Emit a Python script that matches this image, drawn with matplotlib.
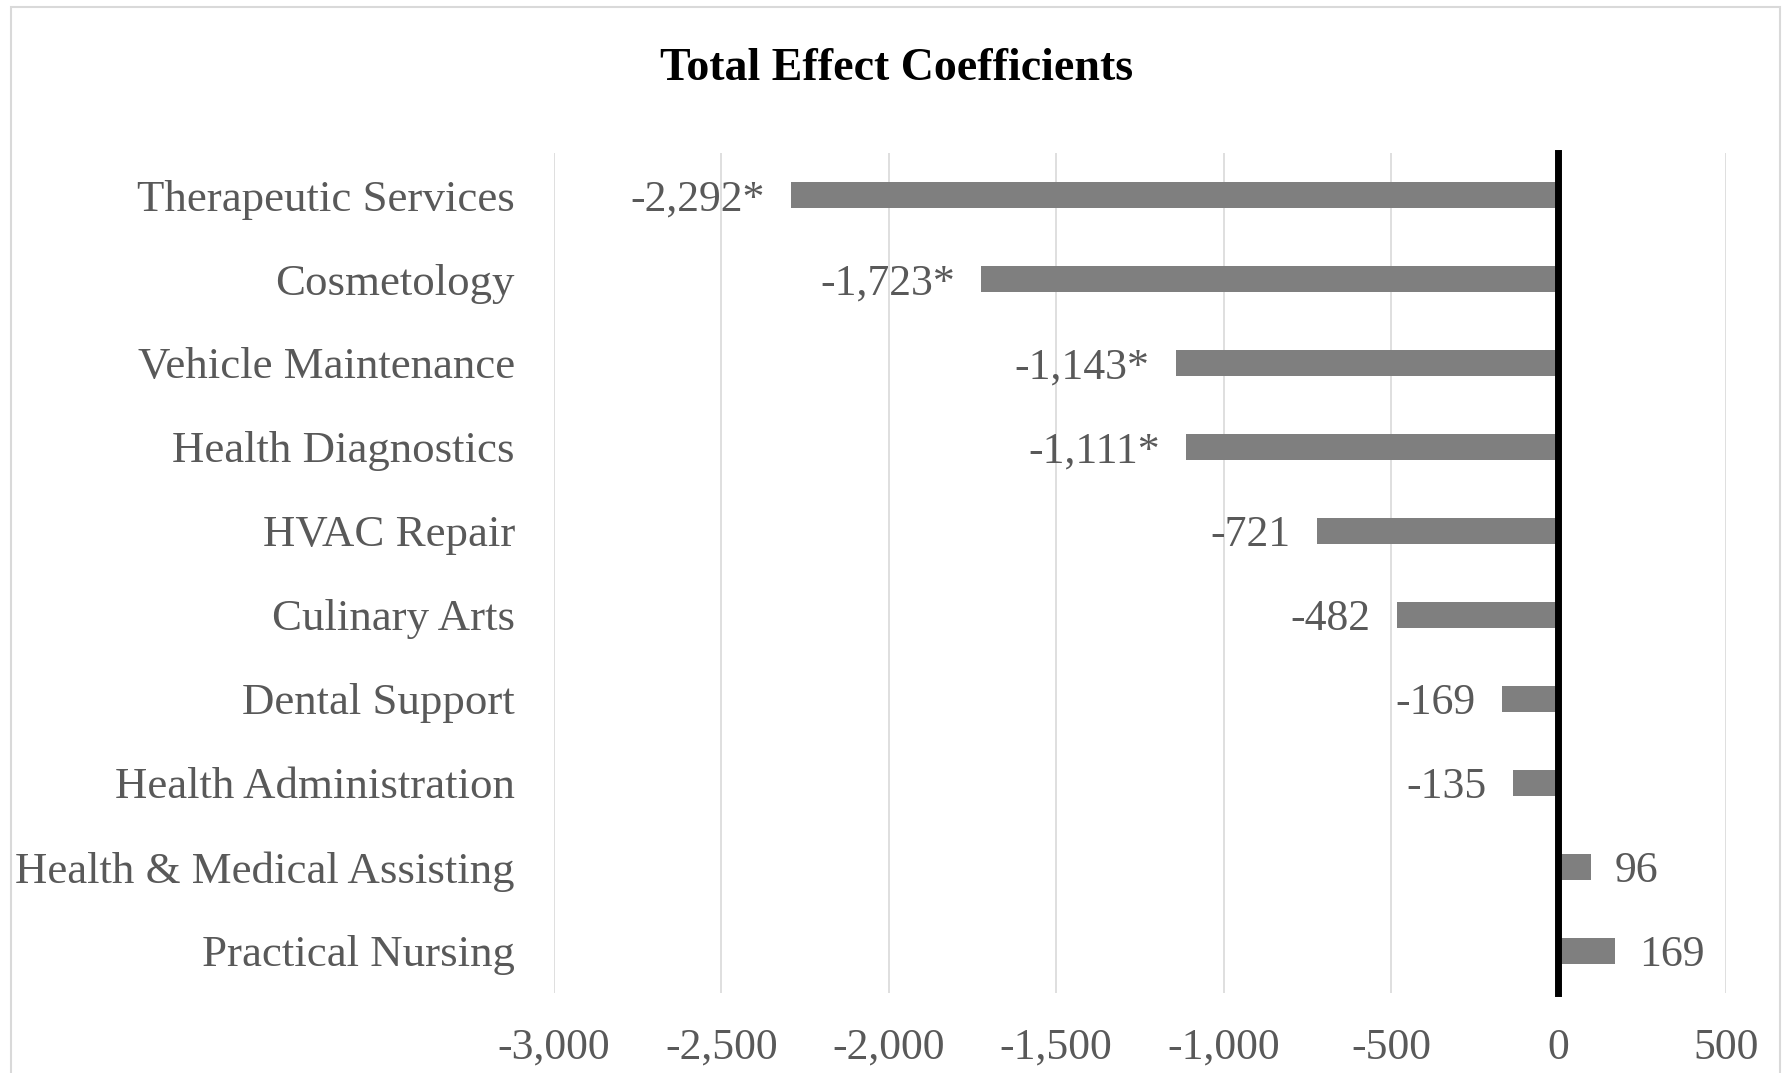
import matplotlib
matplotlib.use("Agg")
import matplotlib.pyplot as plt
from matplotlib.patches import Rectangle

programs = [
    "Therapeutic Services",
    "Cosmetology",
    "Vehicle Maintenance",
    "Health Diagnostics",
    "HVAC Repair",
    "Culinary Arts",
    "Dental Support",
    "Health Administration",
    "Health & Medical Assisting",
    "Practical Nursing",
]
coefficients = [-2292, -1723, -1143, -1111, -721, -482, -169, -135, 96, 169]
significant = [True, True, True, True, False, False, False, False, False, False]
x_ticks = [-3000, -2500, -2000, -1500, -1000, -500, 0, 500]

TEXT_GRAY = "#595959"
BAR_GRAY = "#7f7f7f"

plt.rcParams["font.family"] = ["Liberation Serif", "DejaVu Serif"]


def plot_coefficients():
    fig = plt.figure(figsize=(17.83, 10.73), dpi=100)
    ax = fig.add_axes([0.3106, 0.0746, 0.6574, 0.7828])

    # top-to-bottom order of categories
    ypos = list(range(len(programs)))
    ax.barh(ypos, coefficients, height=0.31, color=BAR_GRAY, zorder=2)

    ax.set_ylim(len(programs) - 0.5, -0.5)
    ax.set_xlim(-3000, 500)
    ax.set_xticks(x_ticks)
    ax.set_xticklabels([f"{t:,}" for t in x_ticks])
    ax.set_yticks(ypos)
    ax.set_yticklabels(programs, fontsize=32.3)

    ax.tick_params(axis="both", length=0, colors=TEXT_GRAY)
    ax.tick_params(axis="x", pad=25, labelsize=31.5)
    ax.tick_params(axis="y", pad=28)

    ax.grid(axis="x", color="#d9d9d9", linewidth=1.2, zorder=0)
    for side in ax.spines.values():
        side.set_visible(False)

    # thick zero line
    ax.axvline(0, color="black", linewidth=5, solid_capstyle="projecting", zorder=3, clip_on=False)

    for y, val, star in zip(ypos, coefficients, significant):
        label = f"{val:,}" + ("*" if star else "")
        if val < 0:
            ax.annotate(label, (val, y), xytext=(-19, 0), textcoords="offset points",
                        ha="right", va="center_baseline", fontsize=31.5, color=TEXT_GRAY)
        else:
            ax.annotate(label, (val, y), xytext=(17, 0), textcoords="offset points",
                        ha="left", va="center_baseline", fontsize=31.5, color=TEXT_GRAY)

    fig.text(0.5026, 0.936, "Total Effect Coefficients", ha="center", va="center",
             fontsize=33, fontweight="bold", color="black")

    # chart frame
    fig.patches.append(Rectangle((11 / 1783, -0.02), (1780 - 11) / 1783, 1.02 - 7 / 1073,
                                 transform=fig.transFigure, fill=False,
                                 edgecolor="#d9d9d9", linewidth=1.5))

    fig.savefig("out.png", dpi=100)


if __name__ == "__main__":
    plot_coefficients()
